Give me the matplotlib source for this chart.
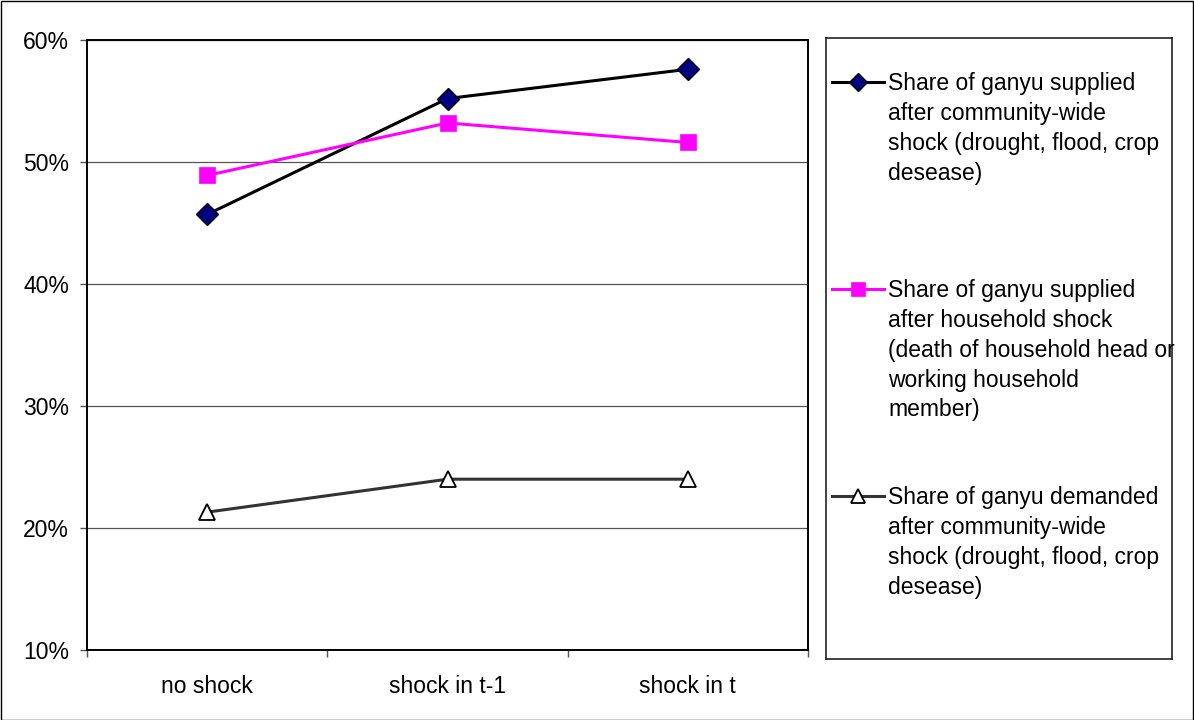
import matplotlib
matplotlib.use("Agg")
import matplotlib.pyplot as plt
from matplotlib.patches import Rectangle
from matplotlib.ticker import FixedLocator, PercentFormatter

plt.rcParams['font.family'] = ['Liberation Sans', 'DejaVu Sans']

categories = ["no shock", "shock in t-1", "shock in t"]
supplied_community = [45.7, 55.2, 57.6]
supplied_household = [48.9, 53.2, 51.6]
demanded_community = [21.3, 24.0, 24.0]

labels = [
    "Share of ganyu supplied\nafter community-wide\nshock (drought, flood, crop\ndesease)",
    "Share of ganyu supplied\nafter household shock\n(death of household head or\nworking household\nmember)",
    "Share of ganyu demanded\nafter community-wide\nshock (drought, flood, crop\ndesease)",
]

styles = [
    dict(color="black", lw=2.2, marker="D", ms=11, mfc="#000080", mec="black", mew=1.0),
    dict(color="#ff00ff", lw=2.2, marker="s", ms=12, mfc="#ff00ff", mec="#ff00ff", mew=0.5),
    dict(color="#333333", lw=2.2, marker="^", ms=12, mfc="white", mec="black", mew=1.3),
]

W, H = 1194, 720
fig = plt.figure(figsize=(W / 100, H / 100), dpi=100)

# outer chart frame
fig.patches.append(Rectangle((0.5 / W, 0.5 / H), 1 - 1.5 / W, 1 - 1.5 / H,
                             transform=fig.transFigure, fill=False,
                             edgecolor="black", lw=1.0))

ax = fig.add_axes([87 / W, (H - 650) / H, (808 - 87) / W, (650 - 40) / H])
x = list(range(len(categories)))
series = [supplied_community, supplied_household, demanded_community]
for vals, st in zip(series, styles):
    ax.plot(x, vals, zorder=3, **st)

ax.set_xlim(-0.5, len(categories) - 0.5)
ax.set_ylim(10, 60)
ax.set_yticks([10, 20, 30, 40, 50, 60])
ax.yaxis.set_major_formatter(PercentFormatter(decimals=0))
ax.grid(axis="y", color="#555555", lw=0.9)
ax.set_axisbelow(True)

ax.set_xticks(x)
ax.set_xticklabels(categories)
ax.xaxis.set_minor_locator(FixedLocator([i - 0.5 for i in range(len(categories) + 1)]))
ax.tick_params(axis="x", which="major", length=0, pad=18, labelsize=16.5)
ax.tick_params(axis="x", which="minor", length=5, width=1, color="#555555", direction="out")
ax.tick_params(axis="y", length=5, width=1, color="#555555", pad=8, labelsize=16.5)

for side in ["left", "bottom", "top", "right"]:
    ax.spines[side].set_color("black")
    ax.spines[side].set_linewidth(1.4)

# legend panel
lx0, lx1, ly0, ly1 = 826, 1172, 38, 659
lax = fig.add_axes([lx0 / W, (H - ly1) / H, (lx1 - lx0) / W, (ly1 - ly0) / H])
lax.set_xlim(lx0, lx1)
lax.set_ylim(ly1, ly0)
lax.set_xticks([])
lax.set_yticks([])
for side in lax.spines.values():
    side.set_color("#222222")
    side.set_linewidth(1.2)

first_line_y = [82, 289, 496]
for yy, lab, st in zip(first_line_y, labels, styles):
    lax.plot([832, 884], [yy, yy], color=st["color"], lw=st["lw"])
    lax.plot([858], [yy], linestyle="none", marker=st["marker"], ms=st["ms"] * 0.85,
             mfc=st["mfc"], mec=st["mec"], mew=st["mew"])
    lax.text(888, yy - 10, lab, ha="left", va="top", fontsize=16.5,
             linespacing=1.38)

fig.savefig("out.png", dpi=100)
